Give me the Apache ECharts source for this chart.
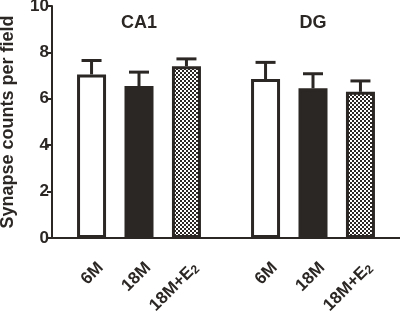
<!DOCTYPE html>
<html>
<head>
<meta charset="utf-8">
<script src="https://cdn.jsdelivr.net/npm/echarts@6/dist/echarts.min.js"></script>
<style>
  html, body { margin: 0; padding: 0; background: #fff; }
  #main { width: 400px; height: 315px; }
</style>
</head>
<body>
<div id="main"></div>
<script>
// regions and treatment groups
var groups = ['CA1', 'DG'];
var conditions = ['6M', '18M', '18M+E2'];
// mean synapse counts per field
var meanCA1 = [7.05, 6.55, 7.4];
var errCA1 = [0.6, 0.6, 0.32];
var meanDG = [6.85, 6.45, 6.3];
var errDG = [0.72, 0.63, 0.47];
var yTicks = [0, 2, 4, 6, 8, 10];

var means = [meanCA1, meanDG];
var errs = [errCA1, errDG];

var ink = '#2b2725';
var fontFam = 'Liberation Sans';

// small checker pattern for the E2 bars
var pat = document.createElement('canvas');
pat.width = 4; pat.height = 4;
var pctx = pat.getContext('2d');
pctx.fillStyle = '#fff';
pctx.fillRect(0, 0, 4, 4);
pctx.fillStyle = ink;
pctx.fillRect(0, 0, 2, 2);
pctx.fillRect(2, 2, 2, 2);

var fills = ['#ffffff', ink, {image: pat, repeat: 'repeat'}];

// the x axis is split in narrow slots so the two groups sit apart
var SLOTS = 22;
function slotOf(g, c) { return 2 + g * 11 + c * 3; }

var cats = [];
for (var i = 0; i < SLOTS; i++) cats.push('');
var barData = [];
var errData = [];
for (var g = 0; g < groups.length; g++) {
    for (var c = 0; c < conditions.length; c++) {
        var s = slotOf(g, c);
        cats[s] = conditions[c];
        barData.push({
            value: [s, means[g][c]],
            itemStyle: {color: fills[c]}
        });
        errData.push([s, means[g][c], means[g][c] + errs[g][c]]);
    }
}

var chart = echarts.init(document.getElementById('main'));
var option = {
    animation: false,
    grid: {left: 52, right: 0, top: 6, bottom: 77, containLabel: false, outerBoundsMode: 'none'},
    xAxis: {
        type: 'category',
        data: cats,
        axisLine: {lineStyle: {color: ink, width: 2}},
        axisTick: {
            alignWithLabel: true,
            length: 5,
            lineStyle: {color: ink, width: 2},
            interval: function (idx, val) { return val !== ''; }
        },
        axisLabel: {
            interval: 0,
            rotate: 45,
            margin: 18,
            verticalAlign: 'top',
            padding: [4, 0, 0, 0],
            color: ink,
            fontFamily: fontFam,
            fontWeight: 'bold',
            fontSize: 17,
            formatter: function (val) {
                if (val === '18M+E2') return '{b|18M+E}{s|2}';
                return val ? '{b|' + val + '}' : '';
            },
            rich: {
                b: {fontFamily: fontFam, fontWeight: 'bold', fontSize: 17, color: ink, lineHeight: 18},
                s: {fontFamily: fontFam, fontSize: 12, color: ink, lineHeight: 18, verticalAlign: 'bottom'}
            }
        }
    },
    yAxis: {
        type: 'value',
        min: 0,
        max: 10,
        interval: 2,
        name: 'Synapse counts per field',
        nameLocation: 'middle',
        nameGap: 35,
        nameTextStyle: {fontFamily: fontFam, fontWeight: 'bold', fontSize: 18, color: ink},
        splitLine: {show: false},
        axisLine: {show: true, lineStyle: {color: ink, width: 2}},
        axisTick: {show: true, length: 5, lineStyle: {color: ink, width: 2}},
        axisLabel: {
            margin: 3,
            color: ink,
            fontFamily: fontFam,
            fontWeight: 'bold',
            fontSize: 17,
            formatter: function (v) { return yTicks.indexOf(v) >= 0 ? String(v) : ''; }
        }
    },
    series: [
        {
            type: 'custom',
            z: 1,
            data: errData,
            renderItem: function (params, api) {
                var base = api.coord([api.value(0), api.value(1)]);
                var top = api.coord([api.value(0), api.value(2)]);
                var hw = 10;
                return {
                    type: 'group',
                    children: [
                        {type: 'line', shape: {x1: base[0], y1: base[1], x2: top[0], y2: top[1]},
                         style: {stroke: ink, lineWidth: 3}},
                        {type: 'line', shape: {x1: top[0] - hw, y1: top[1], x2: top[0] + hw, y2: top[1]},
                         style: {stroke: ink, lineWidth: 3}}
                    ]
                };
            }
        },
        {
            type: 'bar',
            z: 2,
            barWidth: 29,
            data: barData,
            itemStyle: {borderColor: ink, borderWidth: 3}
        }
    ]
};
chart.setOption(option);

// region titles centred over each group
var titleGraphics = groups.map(function (name, g) {
    var px = chart.convertToPixel({xAxisIndex: 0, yAxisIndex: 0}, [slotOf(g, 1), 9.25]);
    return {
        type: 'text',
        x: px[0],
        y: px[1],
        style: {
            text: name,
            fill: ink,
            font: 'bold 18px "Liberation Sans"',
            textAlign: 'center',
            textVerticalAlign: 'middle'
        }
    };
});
chart.setOption({graphic: titleGraphics});
</script>
</body>
</html>
